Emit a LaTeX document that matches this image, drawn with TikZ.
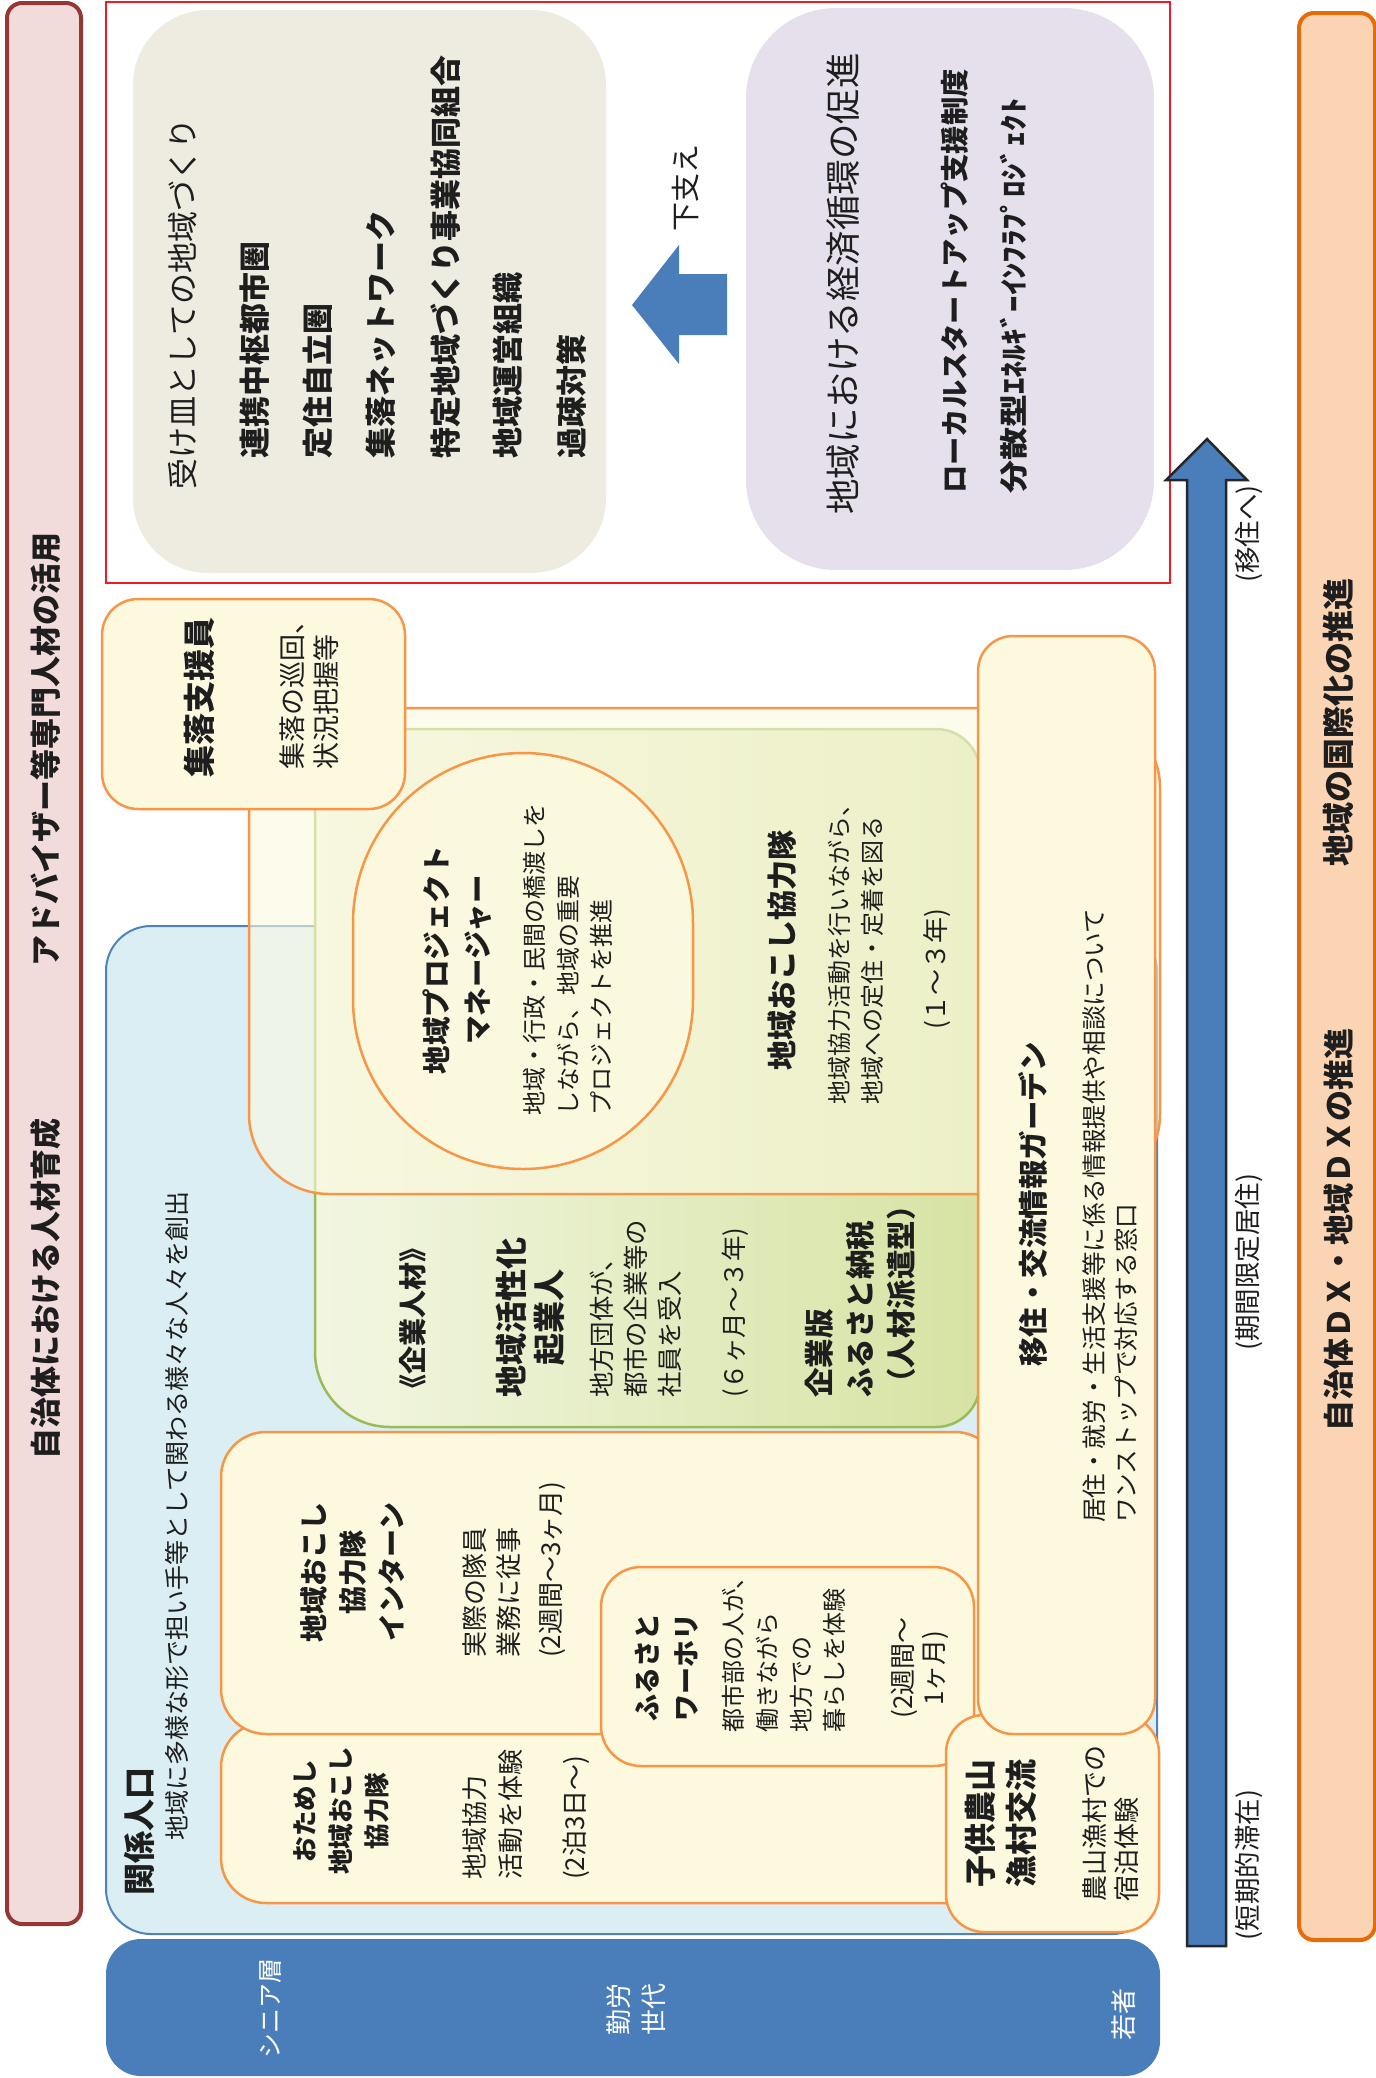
\documentclass[tikz,border=0pt]{standalone}
\usepackage{fontspec}
\usepackage{graphicx}
\setmainfont{Noto Sans CJK JP}

\definecolor{ink}{HTML}{1E1E1E}
\definecolor{pinkF}{HTML}{F2DCDB}
\definecolor{pinkE}{HTML}{953735}
\definecolor{frameR}{HTML}{ED1C24}
\definecolor{beigeF}{HTML}{EEECE1}
\definecolor{lilacF}{HTML}{E5E0EC}
\definecolor{arrowB}{HTML}{4A7EBB}
\definecolor{skyF}{HTML}{DAEEF3}
\definecolor{skyE}{HTML}{4F81BD}
\definecolor{creamF}{HTML}{FCF9DF}
\definecolor{orangeE}{HTML}{F79646}
\definecolor{greenL}{HTML}{F2F6E2}
\definecolor{greenR}{HTML}{D6E3A3}
\definecolor{greenE}{HTML}{9BBB59}
\definecolor{peachF}{HTML}{FBD4B4}
\definecolor{peachE}{HTML}{E46C0A}
\definecolor{outlineD}{HTML}{262626}

\newcommand\fz[2]{\fontsize{#1pt}{#2pt}\selectfont}

\begin{document}
\begin{tikzpicture}[x=1pt,y=-1pt,
  vt/.style={rotate=90, inner sep=0pt, text=ink},
  vtw/.style={rotate=90, inner sep=0pt, text=white},
  cream/.style={fill=creamF, draw=orangeE, line width=2.5pt},
  sidebar/.style={line width=4pt, rounded corners=15pt}]

\useasboundingbox (0,0) rectangle (1376,2078);

% ---- side bars ----
\draw[sidebar, fill=pinkF, draw=pinkE] (7,3) rectangle (81,1924);
\node[vt, font=\fz{31}{37}\bfseries] (jinzai) at (46,1289) {自治体における人材育成};
\node[vt, font=\fz{31}{37}\bfseries] (advisor) at (46,749) {アドバイザー等専門人材の活用};

\draw[sidebar, fill=peachF, draw=peachE] (1299,13) rectangle (1375,1940);
\node[vt, font=\fz{31}{37}\bfseries] (dx) at (1339,1230) {自治体ＤＸ・地域ＤＸの推進};
\node[vt, font=\fz{32}{38}\bfseries] (kokusai) at (1338,722) {地域の国際化の推進};

% ---- upper frame ----
\draw[frameR, line width=2.5pt] (106,2) rectangle (1170,583);
\fill[beigeF, rounded corners=75pt] (133,10) rectangle (606,573);
\node[vt, anchor=west, font=\fz{31}{37}] (ukezara) at (183,490) {受け皿としての地域づくり};
\foreach \xx/\txt [count=\i] in {255/連携中枢都市圏, 318/定住自立圏, 381/集落ネットワーク,
    446/特定地域づくり事業協同組合, 508/地域運営組織, 572/過疎対策}
  \node[vt, anchor=west, font=\fz{31}{37}\bfseries] (uk\i) at (\xx,459) {\txt};

\fill[lilacF, rounded corners=90pt] (746,8) rectangle (1154,570);
\node[vt, anchor=west, font=\fz{35.5}{42}] (keizai) at (843,515) {地域における経済循環の促進};
\node[vt, anchor=west, font=\fz{28.3}{34}\bfseries] (startup) at (955,494) {ローカルスタートアップ支援制度};
\node[vt, anchor=west, font=\fz{28.3}{34}\bfseries] (energy) at (1014,494) {\scalebox{1.165}[1]{分散型ｴﾈﾙｷﾞｰｲﾝﾌﾗﾌﾟﾛｼﾞｪｸﾄ}};

% supporting arrow
\fill[arrowB] (632,305) -- (679,245) -- (679,274) -- (727,274) -- (727,335)
  -- (679,335) -- (679,364) -- cycle;
\node[vt, font=\fz{29}{35}] (sasae) at (686,188) {下支え};

% ---- related population ----
\draw[fill=skyF, draw=skyE, line width=2pt, rounded corners=45pt] (106,926) rectangle (1157,1934);
\node[vt, anchor=west, font=\fz{32}{38}\bfseries] (kankei) at (139,1896) {関係人口};
\node[vt, anchor=west, font=\fz{25}{30}] (kankeiD) at (177,1841) {地域に多様な形で担い手等として関わる様々な人々を創出};

% green block: corporate talent and cooperation corps
\draw[left color=greenL, right color=greenR, draw=greenE, line width=2.5pt]
  [rounded corners=40pt] (315,900) -- (315,729)
  [rounded corners=44pt] -- (980,729) -- (980,1427)
  [rounded corners=75pt] -- (315,1427) -- (315,900);

% orange container behind the project manager
\draw[fill=creamF, fill opacity=0.6, draw=orangeE, line width=2.5pt, rounded corners=80pt]
  (249,708) rectangle (1160,1194);

% project manager
\draw[fill=creamF, fill opacity=0.85, draw=orangeE, line width=2.5pt, rounded corners=170pt]
  (353,753) rectangle (693,1169);
\node[vt, align=center, font=\fz{28.5}{41}\bfseries] (pm) at (457,960) {地域プロジェクト\\マネージャー};
\node[vt, anchor=west, align=left, font=\fz{24}{33.5}] (pmD) at (568,1116)
  {地域・行政・民間の橋渡しを\\しながら、地域の重要\\プロジェクトを推進};

% cooperation corps
\node[vt, font=\fz{30}{36}\bfseries] (kyoryoku) at (782,950) {地域おこし協力隊};
\node[vt, anchor=west, align=left, font=\fz{24}{33}] (kyoryokuD) at (856,1105)
  {地域協力活動を行いながら、\\地域への定住・定着を図る};
\node[vt, font=\fz{26}{30}] (kyoryokuT) at (937,969) {(１～３年)};

% corporate talent
\node[vt, font=\fz{28}{34}\bfseries] (kigyo) at (413,1318) {《企業人材》};
\node[vt, align=center, font=\fz{32}{38}\bfseries] (kigyojin) at (531,1317) {地域活性化\\起業人};
\node[vt, anchor=west, align=left, font=\fz{25.4}{34}] (kigyojinD) at (636,1398)
  {地方団体が、\\都市の企業等の\\社員を受入};
\node[vt, anchor=west, font=\fz{25.5}{30}] (kigyojinT) at (735,1398) {(６ヶ月～３年)};
\node[vt, anchor=west, align=left, font=\fz{29.5}{41}\bfseries] (furusato) at (860,1398)
  {企業版\\ふるさと納税\\（人材派遣型）};

% regional support staff
\draw[cream, rounded corners=36pt] (102,599) rectangle (405,809);
\node[vt, anchor=west, font=\fz{32}{38}\bfseries] (shuraku) at (199,778) {集落支援員};
\node[vt, anchor=west, align=left, font=\fz{27}{34}] (shurakuD) at (309,770) {集落の巡回、\\状況把握等};

% trial, intern and working-holiday programmes
\draw[cream, rounded corners=45pt] (221,1722) rectangle (1000,1903);
\draw[cream, rounded corners=45pt] (221,1432) rectangle (1000,1734);
\node[vt, align=center, font=\fz{25.5}{36}\bfseries] (otameshi) at (341,1811) {おためし\\地域おこし\\協力隊};
\node[vt, anchor=west, align=left, font=\fz{26}{36}] (otameshiD) at (493,1880) {地域協力\\活動を体験};
\node[vt, anchor=west, font=\fz{26}{30}] (otameshiT) at (576,1880) {(2泊3日～)};

\node[vt, align=center, font=\fz{28}{39}\bfseries] (intern) at (353,1572) {地域おこし\\協力隊\\インターン};
\node[vt, anchor=west, align=left, font=\fz{26}{34}] (internD) at (492,1658) {実際の隊員\\業務に従事};
\node[vt, anchor=west, font=\fz{26}{30}] (internT) at (552,1658) {(2週間～3ヶ月)};

\draw[cream, rounded corners=40pt] (601,1567) rectangle (974,1766);
\node[vt, anchor=west, align=left, font=\fz{27}{39}\bfseries] (wh) at (667,1722) {ふるさと\\ワーホリ};
\node[vt, anchor=west, align=left, font=\fz{24}{33.7}] (whD) at (784,1733)
  {都市部の人が、\\働きながら\\地方での\\暮らしを体験};
\node[vt, align=center, font=\fz{26}{31}] (whT) at (920,1668) {(2週間～\\1ヶ月)};

% children's rural exchange and migration garden
\draw[cream, rounded corners=38pt] (946,1715) rectangle (1159,1932);
\node[vt, anchor=west, align=left, font=\fz{32}{41}\bfseries] (kodomo) at (1001,1888) {子供農山\\漁村交流};
\node[vt, anchor=west, align=left, font=\fz{26}{32}] (kodomoD) at (1111,1902) {農山漁村での\\宿泊体験};

\draw[cream, rounded corners=35pt] (978,636) rectangle (1155,1734);
\node[vt, anchor=west, font=\fz{29.5}{36}\bfseries] (iju) at (1033,1367) {移住・交流情報ガーデン};
\node[vt, anchor=west, align=left, font=\fz{24.6}{32}] (ijuD) at (1110,1523)
  {居住・就労・生活支援等に係る情報提供や相談について\\ワンストップで対応する窓口};

% ---- stay-length arrow ----
\draw[fill=arrowB, draw=outlineD, line width=2.5pt, line join=miter]
  (1187,1946) -- (1187,480) -- (1166,480) -- (1207,439) -- (1247,480)
  -- (1226,480) -- (1226,1946) -- cycle;
\node[vt, font=\fz{26.5}{30}] (stay1) at (1249,534) {(移住へ)};
\node[vt, font=\fz{26.5}{30}] (stay2) at (1249,1262) {(期間限定居住)};
\node[vt, font=\fz{26.5}{30}] (stay3) at (1249,1865) {(短期的滞在)};

% ---- generation band ----
\fill[arrowB, rounded corners=35pt] (106,1939) rectangle (1160,2076);
\node[vtw, font=\fz{25}{30}] (senior) at (271,2008) {シニア層};
\node[vtw, align=center, font=\fz{26}{35}] (worker) at (636,2009) {勤労\\世代};
\node[vtw, font=\fz{26}{30}] (young) at (1124,2014) {若者};

\end{tikzpicture}
\end{document}
